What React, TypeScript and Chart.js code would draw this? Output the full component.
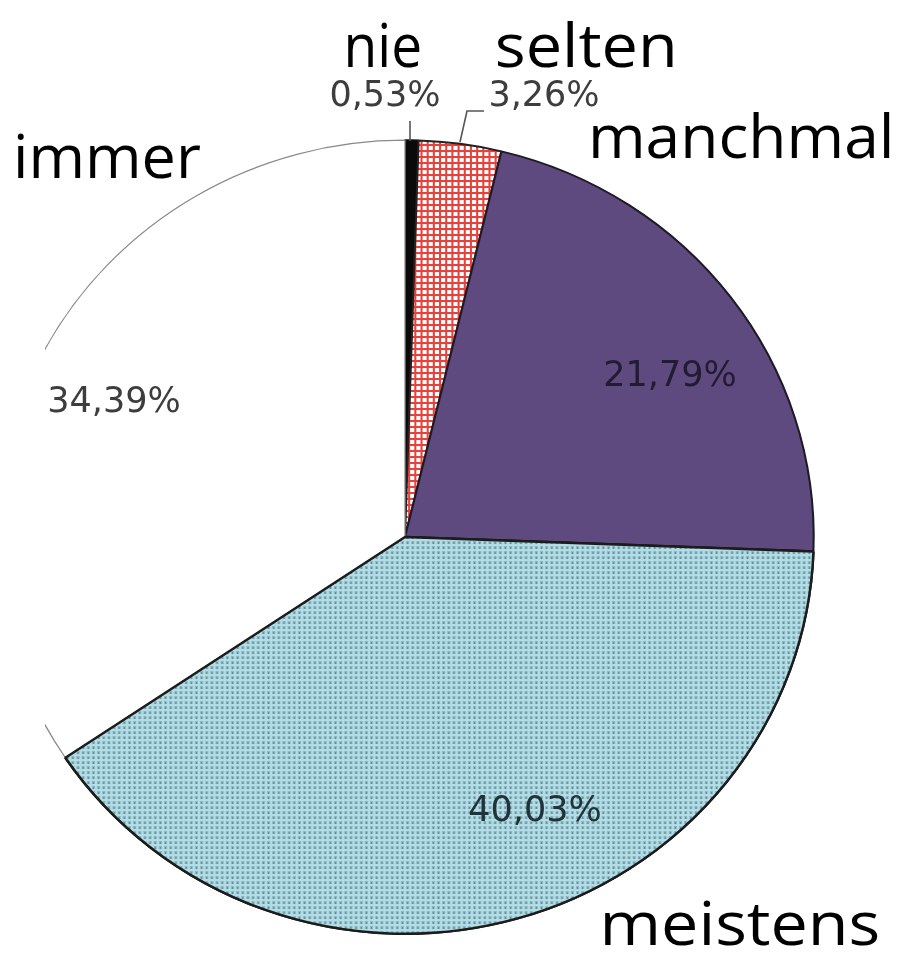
import React, { useEffect, useRef } from "react";
import { Chart, registerables } from "chart.js";

Chart.register(...registerables);

const categories = ["nie", "selten", "manchmal", "meistens", "immer"];
const shares = [0.53, 3.26, 21.79, 40.03, 34.39];
const shareLabels = ["0,53%", "3,26%", "21,79%", "40,03%", "34,39%"];

// label layout (text positions only): [ink left, baseline, ink width]
const categoryBox: [number, number, number][] = [
  [348, 67, 72],
  [498, 67, 175],
  [593, 158, 297],
  [605, 945, 273],
  [17, 178, 183],
];
const sharePos: [number, number][] = [
  [385, 106],
  [544, 106],
  [670, 386],
  [535, 821],
  [114, 412],
];
const shareColors = ["#3d3d3d", "#3d3d3d", "#231a33", "#22323a", "#3d3d3d"];

function gridPattern(): CanvasPattern {
  const c = document.createElement("canvas");
  c.width = 6;
  c.height = 6;
  const g = c.getContext("2d")!;
  g.fillStyle = "#ffffff";
  g.fillRect(0, 0, 6, 6);
  g.fillStyle = "#e5423c";
  g.fillRect(0, 0, 6, 2);
  g.fillRect(0, 0, 2, 6);
  return g.createPattern(c, "repeat")!;
}

function dotPattern(): CanvasPattern {
  const c = document.createElement("canvas");
  c.width = 5;
  c.height = 5;
  const g = c.getContext("2d")!;
  g.fillStyle = "#b2dde6";
  g.fillRect(0, 0, 5, 5);
  g.fillStyle = "#8db8c2";
  g.fillRect(1, 1, 3, 3);
  g.fillStyle = "#5f8c98";
  g.fillRect(2, 2, 1, 2);
  return g.createPattern(c, "repeat")!;
}

const pieFrame = {
  id: "pieFrame",
  beforeDatasetsDraw(chart: any) {
    const ctx = chart.ctx as CanvasRenderingContext2D;
    const arc = chart.getDatasetMeta(0).data[0];
    const cx = arc.x;
    const cy = arc.y;
    ctx.save();
    ctx.beginPath();
    ctx.rect(45, 0, chart.width - 45, chart.height);
    ctx.clip();
    ctx.translate(cx, cy);
    ctx.scale(1.03, 1);
    ctx.translate(-cx, -cy);
  },
  afterDatasetsDraw(chart: any) {
    const ctx = chart.ctx as CanvasRenderingContext2D;
    // redraw "meistens" so its dark edge sits on top of the neighbouring slice
    chart.getDatasetMeta(0).data[3].draw(ctx);
    ctx.restore();
    ctx.save();
    // leader lines
    ctx.strokeStyle = "#555555";
    ctx.lineWidth = 1.6;
    ctx.beginPath();
    ctx.moveTo(410, 121);
    ctx.lineTo(410, 141);
    ctx.moveTo(460, 142);
    ctx.lineTo(467, 111);
    ctx.lineTo(484, 111);
    ctx.stroke();
    // percentage labels
    ctx.textAlign = "center";
    ctx.textBaseline = "alphabetic";
    shareLabels.forEach((t, i) => {
      ctx.font = "35px 'DejaVu Sans'";
      ctx.fillStyle = shareColors[i];
      ctx.fillText(t, sharePos[i][0], sharePos[i][1]);
    });
    // category labels
    ctx.textAlign = "left";
    ctx.fillStyle = "#000000";
    ctx.font = "61px 'Open Sans'";
    categories.forEach((t, i) => {
      const [left, base, w] = categoryBox[i];
      const m = ctx.measureText(t);
      const ink = m.actualBoundingBoxLeft + m.actualBoundingBoxRight;
      const s = ink > 0 ? w / ink : 1;
      ctx.save();
      ctx.translate(left, base);
      ctx.scale(s, 1);
      ctx.fillText(t, m.actualBoundingBoxLeft, 0);
      ctx.restore();
    });
    ctx.restore();
  },
};

export default function App() {
  const ref = useRef<HTMLCanvasElement | null>(null);
  useEffect(() => {
    if (!ref.current) return;
    const chart = new Chart(ref.current, {
      type: "pie",
      data: {
        labels: categories,
        datasets: [
          {
            data: shares,
            backgroundColor: ["#0a0a0a", gridPattern(), "#5e4a7e", dotPattern(), "#ffffff"],
            borderColor: ["#111111", "#222222", "#1e1a26", "#1c1c1c", "#8a8a8a"],
            borderWidth: [2, 2, 2, 2.4, 1.2],
          },
        ],
      },
      options: {
        responsive: false,
        devicePixelRatio: 1,
        animation: false,
        layout: { padding: { left: 7, right: 105, top: 139, bottom: 20 } },
        plugins: {
          legend: { display: false },
          tooltip: { enabled: false },
        },
      },
      plugins: [pieFrame],
    });
    return () => chart.destroy();
  }, []);
  return (
    <div style={{ position: "absolute", left: 0, top: 0, width: 908, height: 955, background: "#ffffff" }}>
      <canvas ref={ref} width={908} height={955} style={{ width: 908, height: 955, display: "block" }} />
    </div>
  );
}
